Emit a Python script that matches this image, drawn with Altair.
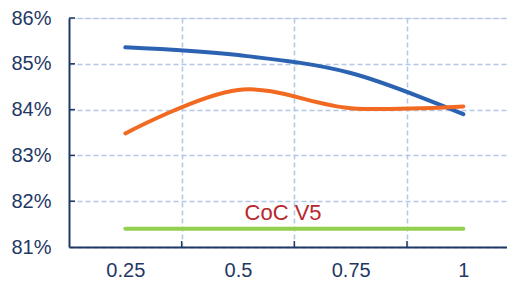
import altair as alt
import pandas as pd

# ---- data ----
x_vals = [0.25, 0.5, 0.75, 1.0]
series_a = [85.36, 85.19, 84.80, 83.90]   # blue
series_b = [83.48, 84.43, 84.03, 84.07]   # orange
series_c = [81.40, 81.40, 81.40, 81.40]   # green (CoC V5)
series_names = ["A", "B", "CoC V5"]
series_colors = ["#2C62B2", "#F26A21", "#92D050"]

x_bounds = [0.375, 0.625, 0.875]
y_ticks = [81, 82, 83, 84, 85, 86]
label_text = ["CoC V5"]
label_x = [0.6]
label_y = [81.6]

NAVY = "#1F3864"
GRID = "#B4C7E7"
FONT = "Liberation Sans"
W, H = 438, 229

rows = []
for name, vals in zip(series_names, [series_a, series_b, series_c]):
    for xv, yv in zip(x_vals, vals):
        rows.append({"x": xv, "y": yv, "series": name})
df = pd.DataFrame(rows)

x_enc = alt.X(
    "x:Q",
    title=None,
    scale=alt.Scale(domain=[0.125, 0.125 + W / 450.67], nice=False, zero=False),
    axis=alt.Axis(
        values=[0.25, 0.375, 0.5, 0.625, 0.75, 0.875, 1.0],
        labelExpr="(round(datum.value*8)%2==0) ? format(datum.value, '~g') : ''",
        grid=True,
        gridColor=GRID,
        gridDash=[5, 3],
        gridWidth=1.5,
        gridOpacity={"condition": {"test": "round(datum.value*8)%2==1", "value": 1}, "value": 0},
        ticks=False,
        labelPadding=13,
        labelFont=FONT,
        labelFontSize=20,
        labelColor=NAVY,
        domainColor=NAVY,
        domainWidth=2,
    ),
)
y_enc = alt.Y(
    "y:Q",
    title=None,
    scale=alt.Scale(domain=[81, 86], nice=False, zero=False),
    axis=alt.Axis(
        values=y_ticks,
        labelExpr="datum.value + '%'",
        grid=True,
        gridColor=GRID,
        gridDash=[5, 3],
        gridWidth=1.5,
        ticks=False,
        labelPadding=18,
        labelFont=FONT,
        labelFontSize=20,
        labelColor=NAVY,
        domainColor=NAVY,
        domainWidth=2,
    ),
)

color = alt.Color(
    "series:N",
    scale=alt.Scale(domain=series_names, range=series_colors),
    legend=None,
)

curves = alt.Chart(df[df.series != "CoC V5"]).mark_line(
    interpolate="cardinal", strokeWidth=4, strokeCap="round"
).encode(x=x_enc, y=y_enc, color=color, detail="series:N")

flat = alt.Chart(df[df.series == "CoC V5"]).mark_line(
    strokeWidth=4, strokeCap="round"
).encode(x=x_enc, y=y_enc, color=color)

label = alt.Chart(pd.DataFrame({"x": label_x, "y": label_y, "t": label_text})).mark_text(
    font=FONT, fontSize=22, color="#B8282E", align="center", baseline="alphabetic"
).encode(x=x_enc, y=y_enc, text="t:N")

xticks = alt.Chart(pd.DataFrame({"x": x_bounds})).mark_rule(
    color=NAVY, strokeWidth=1.5
).encode(x=x_enc, y=alt.value(H - 6), y2=alt.value(H))

yticks = alt.Chart(pd.DataFrame({"y": y_ticks[1:]})).mark_rule(
    color=NAVY, strokeWidth=1.5
).encode(y=y_enc, x=alt.value(0), x2=alt.value(6))

chart = alt.layer(curves, flat, label, xticks, yticks).properties(
    width=W,
    height=H,
    autosize="none",
    padding={"left": 61, "top": 10, "right": 0, "bottom": 33},
).configure_view(stroke=None).configure(background="white")

chart.save("out.html", embed_options={"renderer": "svg", "actions": False})
